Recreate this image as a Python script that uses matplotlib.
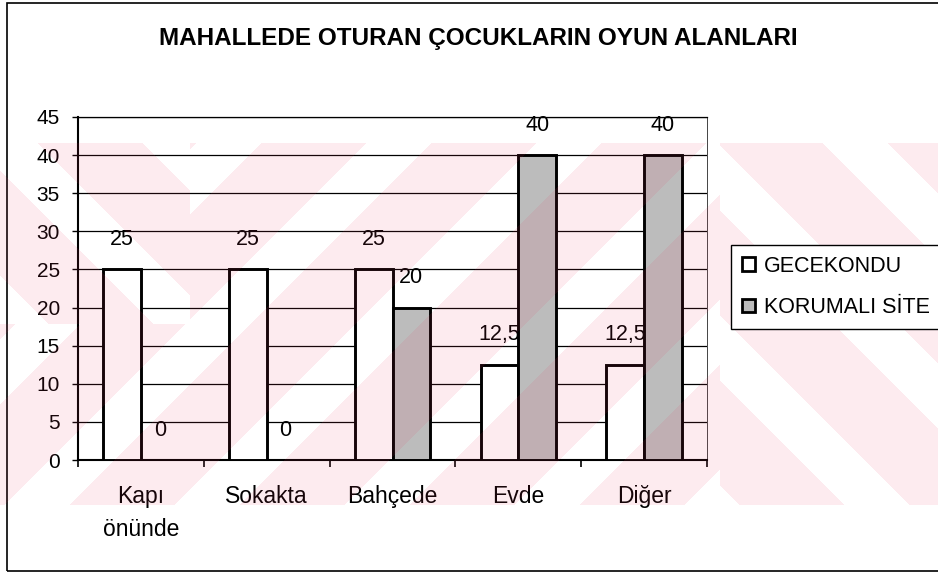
import numpy as np
import matplotlib
matplotlib.use("Agg")
import matplotlib.pyplot as plt
from matplotlib.patches import Patch, Rectangle

# Oyun alanlari (%), iki yerlesim tipi icin
categories = ['Kapı\nönünde', 'Sokakta', 'Bahçede', 'Evde', 'Diğer']
gecekondu = [25, 25, 25, 12.5, 12.5]
korumali_site = [0, 0, 20, 40, 40]
series_names = ['GECEKONDU', 'KORUMALI SİTE']
yticks = [0, 5, 10, 15, 20, 25, 30, 35, 40, 45]

W, H = 938, 574
plt.rcParams['font.family'] = ['Liberation Sans', 'DejaVu Sans']

fig = plt.figure(figsize=(W / 100, H / 100), dpi=100)
fig.patch.set_facecolor('white')

def fmt(v):
    # Turkish decimal comma
    s = ('%g' % v)
    return s.replace('.', ',')

ax = fig.add_axes([78 / W, 1 - 460 / H, (707 - 78) / W, (460 - 117) / H])
x = np.arange(len(categories))
bw = 0.3
bars1 = ax.bar(x - bw / 2, gecekondu, bw, color='white', edgecolor='black',
               linewidth=2.1, zorder=3)
bars2 = ax.bar(x + bw / 2, korumali_site, bw, color='#bcbcbc', edgecolor='black',
               linewidth=2.1, zorder=3)
# zero-height bars have no visible outline
for b, v in zip(bars2, korumali_site):
    if v == 0:
        b.set_linewidth(0)

for bars, vals in ((bars1, gecekondu), (bars2, korumali_site)):
    for b, v in zip(bars, vals):
        ax.annotate(fmt(v), (b.get_x() + b.get_width() / 2, v),
                    xytext=(0, 21.5), textcoords='offset points',
                    ha='center', va='center', fontsize=15.5, zorder=5)

ax.set_xlim(-0.5, len(categories) - 0.5)
ax.set_ylim(0, 45)
ax.set_yticks(yticks)
ax.yaxis.grid(True, color='black', linewidth=0.9)
ax.set_axisbelow(True)

ax.set_xticks(x)
ax.set_xticklabels(categories, fontsize=16.5, linespacing=1.55)
ax.set_xticks(np.arange(-0.5, len(categories)), minor=True)
ax.tick_params(axis='x', which='major', length=0, pad=18)
ax.tick_params(axis='x', which='minor', length=5, width=1.2, direction='out')
ax.tick_params(axis='y', length=4.5, width=1, direction='out', pad=8.5,
               labelsize=15)

for side in ('left', 'bottom'):
    ax.spines[side].set_linewidth(1.5)
ax.spines['top'].set_linewidth(0.9)
ax.spines['right'].set_linewidth(0.7)
ax.spines['right'].set_color('#444444')
ax.spines['right'].set_linestyle((0, (2, 1)))

fig.text(478 / W, 1 - 38 / H, 'MAHALLEDE OTURAN ÇOCUKLARIN OYUN ALANLARI',
         ha='center', va='center', fontsize=17.5, fontweight='bold')

# outer chart frame
fig.patches.append(Rectangle((7 / W, 1 - 571 / H), 1.0, (571 - 3) / H,
                             transform=fig.transFigure, fill=False,
                             edgecolor='black', linewidth=1.2))

handles = [Patch(facecolor='white', edgecolor='black', linewidth=2),
           Patch(facecolor='#bcbcbc', edgecolor='black', linewidth=2)]
leg = fig.legend(handles, series_names, loc='upper left',
                 bbox_to_anchor=(731 / W, 1 - 245 / H), borderaxespad=0,
                 fontsize=15.5, handlelength=0.6, handleheight=0.6,
                 handletextpad=0.45, labelspacing=0.95, borderpad=0.5,
                 fancybox=False, framealpha=1, edgecolor='black')
leg.get_frame().set_linewidth(1.0)
leg.set_zorder(20)

# diagonal pink stripes overlay across the middle band
yy, xx = np.mgrid[0:H, 0:W] + 0.5
back = ((xx < 190) & (yy < 324)) | (xx > 720)
s = np.where(back, xx - yy, xx + yy)
phase = np.mod(s, 170.0) / 170.0
band = (yy >= 143) & (yy <= 505)
pink = band & (phase > 0.38)
img = np.zeros((H, W, 4))
img[..., 0] = 235 / 255
img[..., 1] = 60 / 255
img[..., 2] = 100 / 255
img[..., 3] = np.where(pink, 0.10, 0.0)
wm = fig.add_axes([0, 0, 1, 1], zorder=10)
wm.imshow(img, extent=(0, W, H, 0), interpolation='nearest', aspect='auto')
wm.set_xlim(0, W)
wm.set_ylim(H, 0)
wm.axis('off')

fig.savefig('out.png', dpi=100)
